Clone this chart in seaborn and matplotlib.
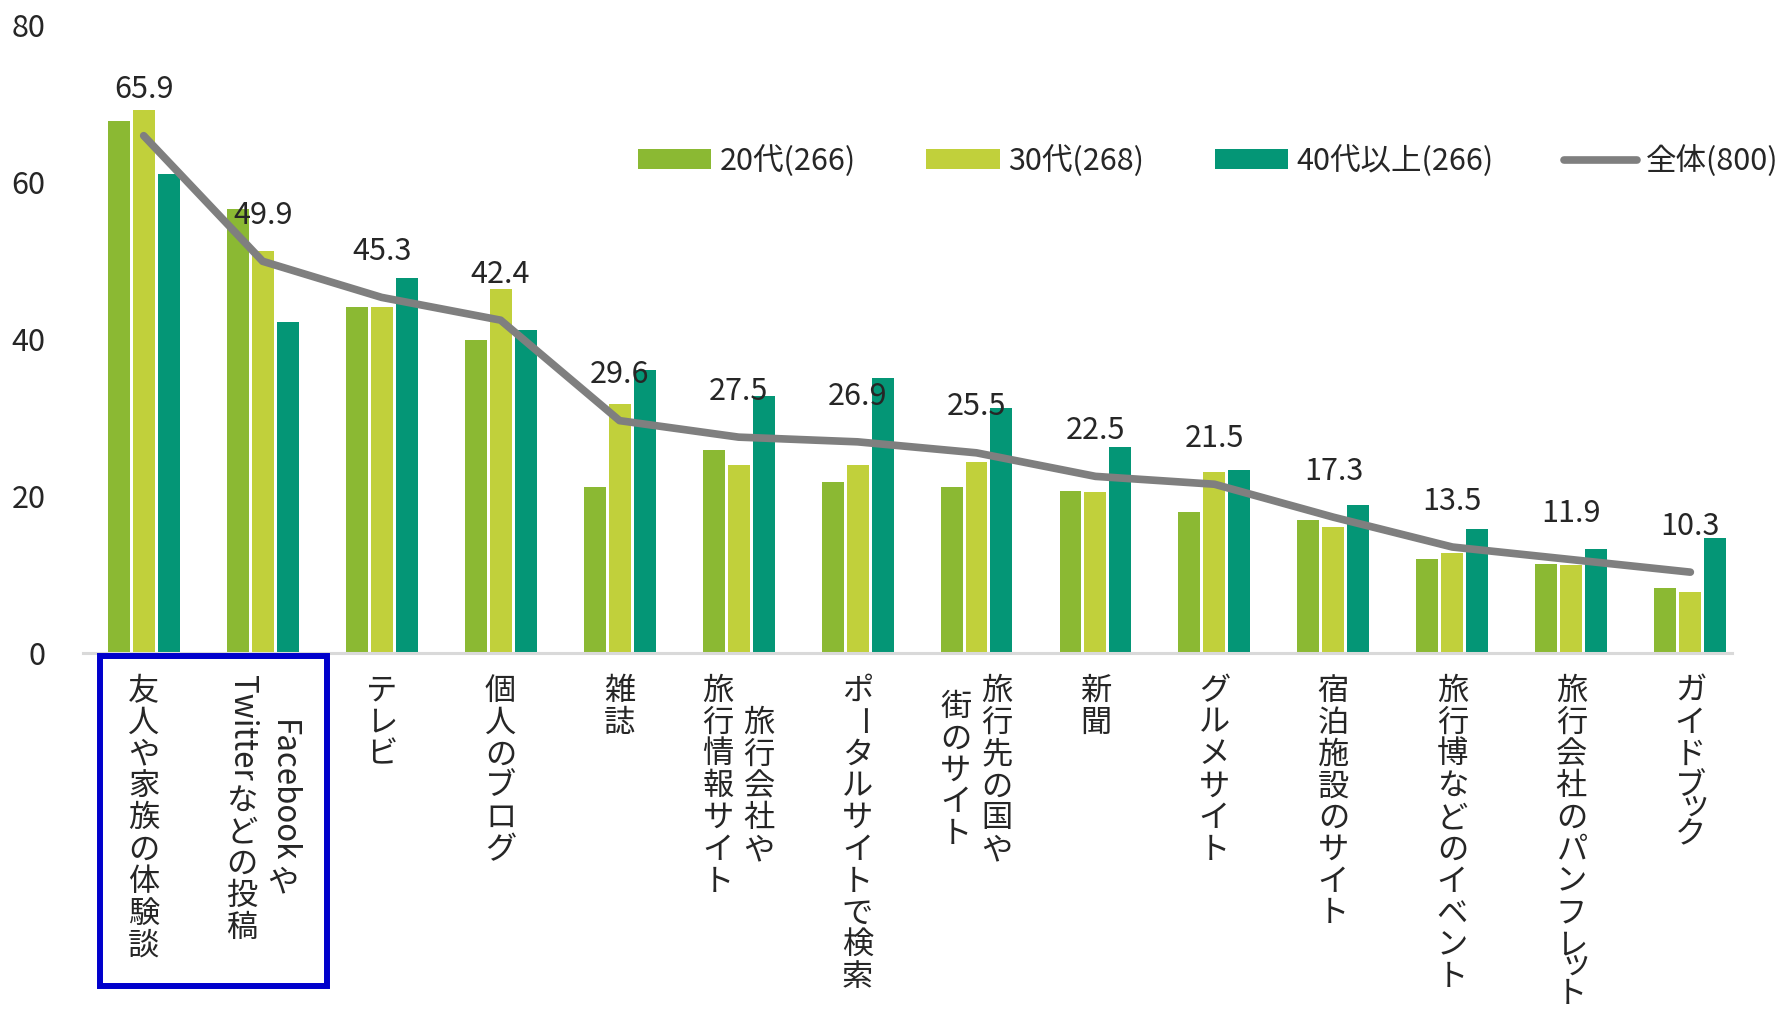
import numpy as np
import pandas as pd
import matplotlib
matplotlib.use('Agg')
import matplotlib.pyplot as plt
import matplotlib.transforms as mtransforms
from matplotlib.patches import Patch, Rectangle
from matplotlib.lines import Line2D
from matplotlib.font_manager import FontProperties
import seaborn as sns

# データ（%）
categories = ['友人や家族の体験談', 'Facebookや\nTwitterなどの投稿', 'テレビ', '個人のブログ', '雑誌',
              '旅行会社や\n旅行情報サイト', 'ポータルサイトで検索', '旅行先の国や\n街のサイト', '新聞',
              'グルメサイト', '宿泊施設のサイト', '旅行博などのイベント', '旅行会社のパンフレット', 'ガイドブック']
age20 = [67.8, 56.5, 44.1, 39.9, 21.1, 25.9, 21.8, 21.1, 20.7, 18.0, 16.9, 12.0, 11.3, 8.3]
age30 = [69.2, 51.2, 44.1, 46.4, 31.7, 23.9, 23.9, 24.3, 20.5, 23.1, 16.1, 12.7, 11.2, 7.8]
age40 = [61.0, 42.2, 47.8, 41.1, 36.1, 32.7, 35.0, 31.2, 26.3, 23.3, 18.8, 15.8, 13.2, 14.7]
total = [65.9, 49.9, 45.3, 42.4, 29.6, 27.5, 26.9, 25.5, 22.5, 21.5, 17.3, 13.5, 11.9, 10.3]
series_names = ['20代(266)', '30代(268)', '40代以上(266)']
total_name = '全体(800)'
y_ticks = [0, 20, 40, 60, 80]

colors = ['#8BB933', '#C1D03B', '#049676']
line_color = '#7F7F7F'

W, H = 1783, 1010

sns.set_style('white')
plt.rcParams['font.family'] = ['Noto Sans CJK JP', 'DejaVu Sans']

df = pd.DataFrame({
    'cat': categories * 3,
    'val': age20 + age30 + age40,
    'series': [s for s in series_names for _ in categories],
})

fig = plt.figure(figsize=(W / 100, H / 100), dpi=100)
ax = fig.add_axes([83 / W, 357 / H, 1649 / W, 628 / H])

sns.barplot(data=df, x='cat', y='val', hue='series', order=categories, hue_order=series_names,
            palette=colors, saturation=1, width=0.63, gap=0.12, linewidth=0, legend=False, ax=ax)
x = np.arange(len(categories))
sns.lineplot(x=x, y=total, color=line_color, linewidth=5.5, ax=ax,
             solid_capstyle='round', solid_joinstyle='round')

for i, v in enumerate(total):
    ax.annotate(f'{v:.1f}', (i, v), xytext=(0, 33), textcoords='offset points',
                ha='center', va='center', fontsize=22)

ax.set_xlim(-0.51, 13.35)
ax.set_ylim(0, 80)
ax.set_yticks(y_ticks)
ax.set_xticks([])
ax.set_xlabel('')
ax.set_ylabel('')
ax.tick_params(axis='y', length=0, pad=27, labelsize=22)
for s in ['top', 'right', 'left']:
    ax.spines[s].set_visible(False)
ax.spines['bottom'].set_color('#D9D9D9')
ax.spines['bottom'].set_linewidth(2.2)

# 縦書きラベル（一文字ずつ積む、英字は90度回転）
label_size = 22.5
pitch = 31.8
small_kana = 'ッャュョァィゥェォっゃゅょ'
col_gap = 0.345
label_top = 675
trans = mtransforms.blended_transform_factory(ax.transData, fig.transFigure)
renderer = fig.canvas.get_renderer()
fp = FontProperties(family=['Noto Sans CJK JP', 'DejaVu Sans'], size=label_size)


def runs(s):
    out = []
    for ch in s:
        if ch.isascii() and out and out[-1][0]:
            out[-1][1] += ch
        else:
            out.append([ch.isascii(), ch])
    return out


def run_len(is_latin, txt):
    if is_latin:
        w, h, d = renderer.get_text_width_height_descent(txt, fp, ismath=False)
        return w + 4
    if txt in small_kana:
        return pitch * 0.52
    return pitch


for i, lab in enumerate(categories):
    cols = lab.split('\n')
    lens = [sum(run_len(a, t) for a, t in runs(c)) for c in cols]
    longest = max(lens)
    for j, col in enumerate(cols):
        cx = i + ((len(cols) - 1) / 2 - j) * col_gap
        y = label_top + (longest - lens[j]) / 2
        for is_latin, txt in runs(col):
            step = run_len(is_latin, txt)
            if is_latin:
                ax.text(cx, 1 - y / H, txt, transform=trans, rotation=-90,
                        ha='center', va='top', fontproperties=fp)
            elif txt in small_kana:
                # 小書き文字は右上寄せ
                ax.text(cx + 0.04, 1 - (y + step / 2 - 6) / H, txt, transform=trans,
                        ha='center', va='center', fontproperties=fp)
            else:
                rot = -90 if txt == 'ー' else 0
                ax.text(cx, 1 - (y + step / 2) / H, txt, transform=trans, rotation=rot,
                        ha='center', va='center', fontproperties=fp)
            y += step

# 青枠
fig.add_artist(Rectangle((100 / W, 1 - 986 / H), 227 / W, 330 / H, transform=fig.transFigure,
                         fill=False, edgecolor='#0000CC', linewidth=4.3))

handles = [Patch(facecolor=c, edgecolor='none') for c in colors]
handles.append(Line2D([0], [0], color=line_color, linewidth=5.5, solid_capstyle='round'))
fig.legend(handles, series_names + [total_name], loc='center left',
           bbox_to_anchor=(638 / W, 1 - 161 / H), ncol=4, frameon=False, fontsize=22,
           handlelength=2.4, handleheight=0.65, handletextpad=0.28, columnspacing=2.3,
           borderpad=0, borderaxespad=0)

plt.savefig('out.png', dpi=100)
